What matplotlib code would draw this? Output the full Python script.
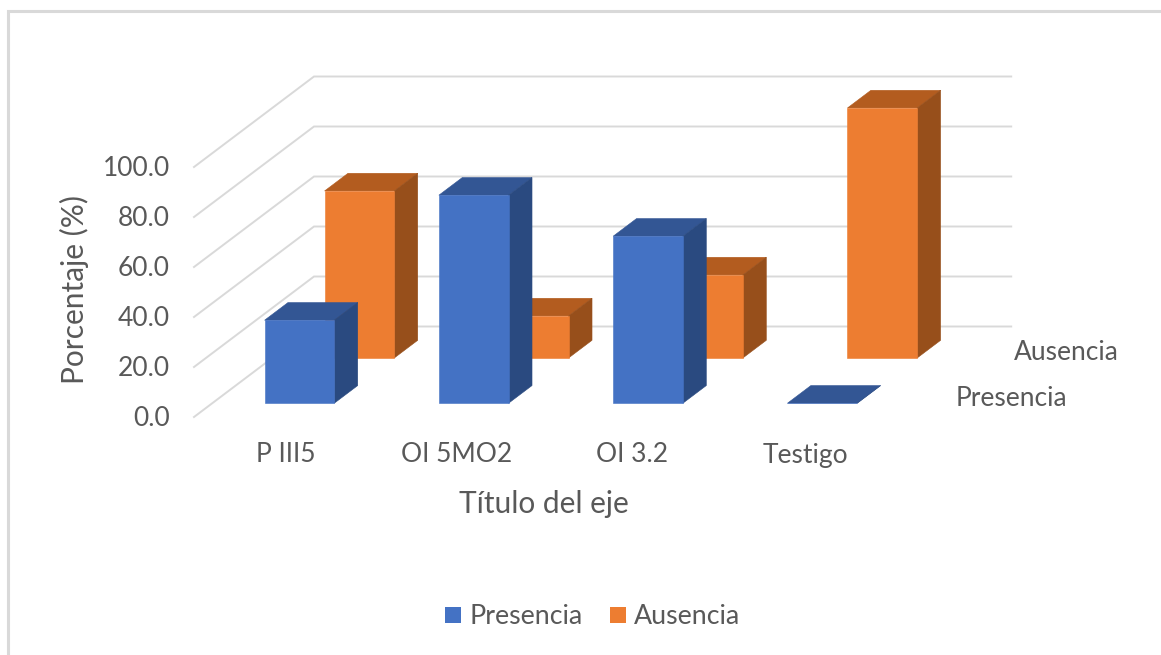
import matplotlib
matplotlib.use("Agg")
import matplotlib.pyplot as plt
from matplotlib.patches import Polygon, Rectangle

# Chart data
categories = ["P III5", "OI 5MO2", "OI 3.2", "Testigo"]
presencia = [33.2, 83.2, 66.8, 0.0]
ausencia = [66.8, 16.8, 33.2, 100.0]
value_ticks = [0, 20, 40, 60, 80, 100]
tick_labels = ["0.0", "20.0", "40.0", "60.0", "80.0", "100.0"]

TEXT = "#595959"
GRID = "#D9D9D9"
FONT = "Lato"
SIZE = 19.0
TITLE_SIZE = 21.5

# Oblique projection of (category position, depth, value) on to the canvas
ORIGIN_X, ORIGIN_Y = 194.0, 417.0
CAT_W = 174.3
DEPTH_X, DEPTH_Y = 120.0, 90.5
VAL_H = 2.5
BAR_W = 0.40
BAR_D = 0.195


def project(cat, depth, value):
    return (ORIGIN_X + cat * CAT_W + depth * DEPTH_X,
            ORIGIN_Y - value * VAL_H - depth * DEPTH_Y)


def draw_bar(ax, index, row, value, front, side, top, zorder):
    """Draw one 3-D column with its centre in the given series row."""
    c0 = index + 0.5 - BAR_W / 2
    c1 = index + 0.5 + BAR_W / 2
    d0 = row * 0.5 + 0.25 - BAR_D / 2
    d1 = d0 + BAR_D
    faces = [
        ([project(c0, d0, value), project(c1, d0, value),
          project(c1, d1, value), project(c0, d1, value)], top),
        ([project(c1, d0, 0), project(c1, d1, 0),
          project(c1, d1, value), project(c1, d0, value)], side),
        ([project(c0, d0, 0), project(c1, d0, 0),
          project(c1, d0, value), project(c0, d0, value)], front),
    ]
    for pts, colour in faces:
        ax.add_patch(Polygon(pts, closed=True, facecolor=colour,
                             edgecolor=colour, linewidth=0.4, zorder=zorder))


fig = plt.figure(figsize=(11.61, 6.55), dpi=100, facecolor="white")
ax = fig.add_axes([0, 0, 1, 1])
ax.set_xlim(0, 1161)
ax.set_ylim(655, 0)
ax.axis("off")

# Chart area border (top and left edges only)
ax.plot([1161, 7.5, 7.5], [10.5, 10.5, 655], color=GRID, lw=2.2,
        solid_joinstyle="miter", zorder=1)

# Gridlines on the side wall and back wall
for v in value_ticks:
    xs, ys = zip(project(0, 0, v), project(0, 1, v), project(4, 1, v))
    ax.plot(xs, ys, color=GRID, lw=1.4, solid_joinstyle="miter", zorder=2)

# Back row first so the front row overlaps it
for i, v in enumerate(ausencia):
    draw_bar(ax, i, 1, v, "#ED7D31", "#974F1B", "#B35C1F", 3)
for i, v in enumerate(presencia):
    draw_bar(ax, i, 0, v, "#4472C4", "#2A4A80", "#335694", 4)

# Value axis labels
for v, lab in zip(value_ticks, tick_labels):
    ax.text(170, project(0, 0, v)[1] + 2, lab, ha="right", va="center",
            family=FONT, fontsize=SIZE, color=TEXT)

# Category labels
for cx, lab in zip([286, 457, 632, 805], categories):
    ax.text(cx, 455, lab, ha="center", va="center",
            family=FONT, fontsize=SIZE, color=TEXT)

# Series labels on the depth axis
ax.text(1014, 353, "Ausencia", ha="left", va="center",
        family=FONT, fontsize=SIZE, color=TEXT)
ax.text(956, 398, "Presencia", ha="left", va="center",
        family=FONT, fontsize=SIZE, color=TEXT)

# Axis titles
ax.text(544, 504, "Título del eje", ha="center", va="center",
        family=FONT, fontsize=TITLE_SIZE, color=TEXT)
ax.text(74, 290, "Porcentaje (%)", ha="center", va="center", rotation=90,
        family=FONT, fontsize=TITLE_SIZE, color=TEXT)

# Legend
ax.add_patch(Rectangle((445, 607), 16, 16, facecolor="#4472C4", edgecolor="none"))
ax.text(469, 617, "Presencia", ha="left", va="center",
        family=FONT, fontsize=SIZE + 0.3, color=TEXT)
ax.add_patch(Rectangle((610, 607), 16, 16, facecolor="#ED7D31", edgecolor="none"))
ax.text(634, 617, "Ausencia", ha="left", va="center",
        family=FONT, fontsize=SIZE + 0.3, color=TEXT)

fig.savefig("out.png", dpi=100, facecolor="white")
